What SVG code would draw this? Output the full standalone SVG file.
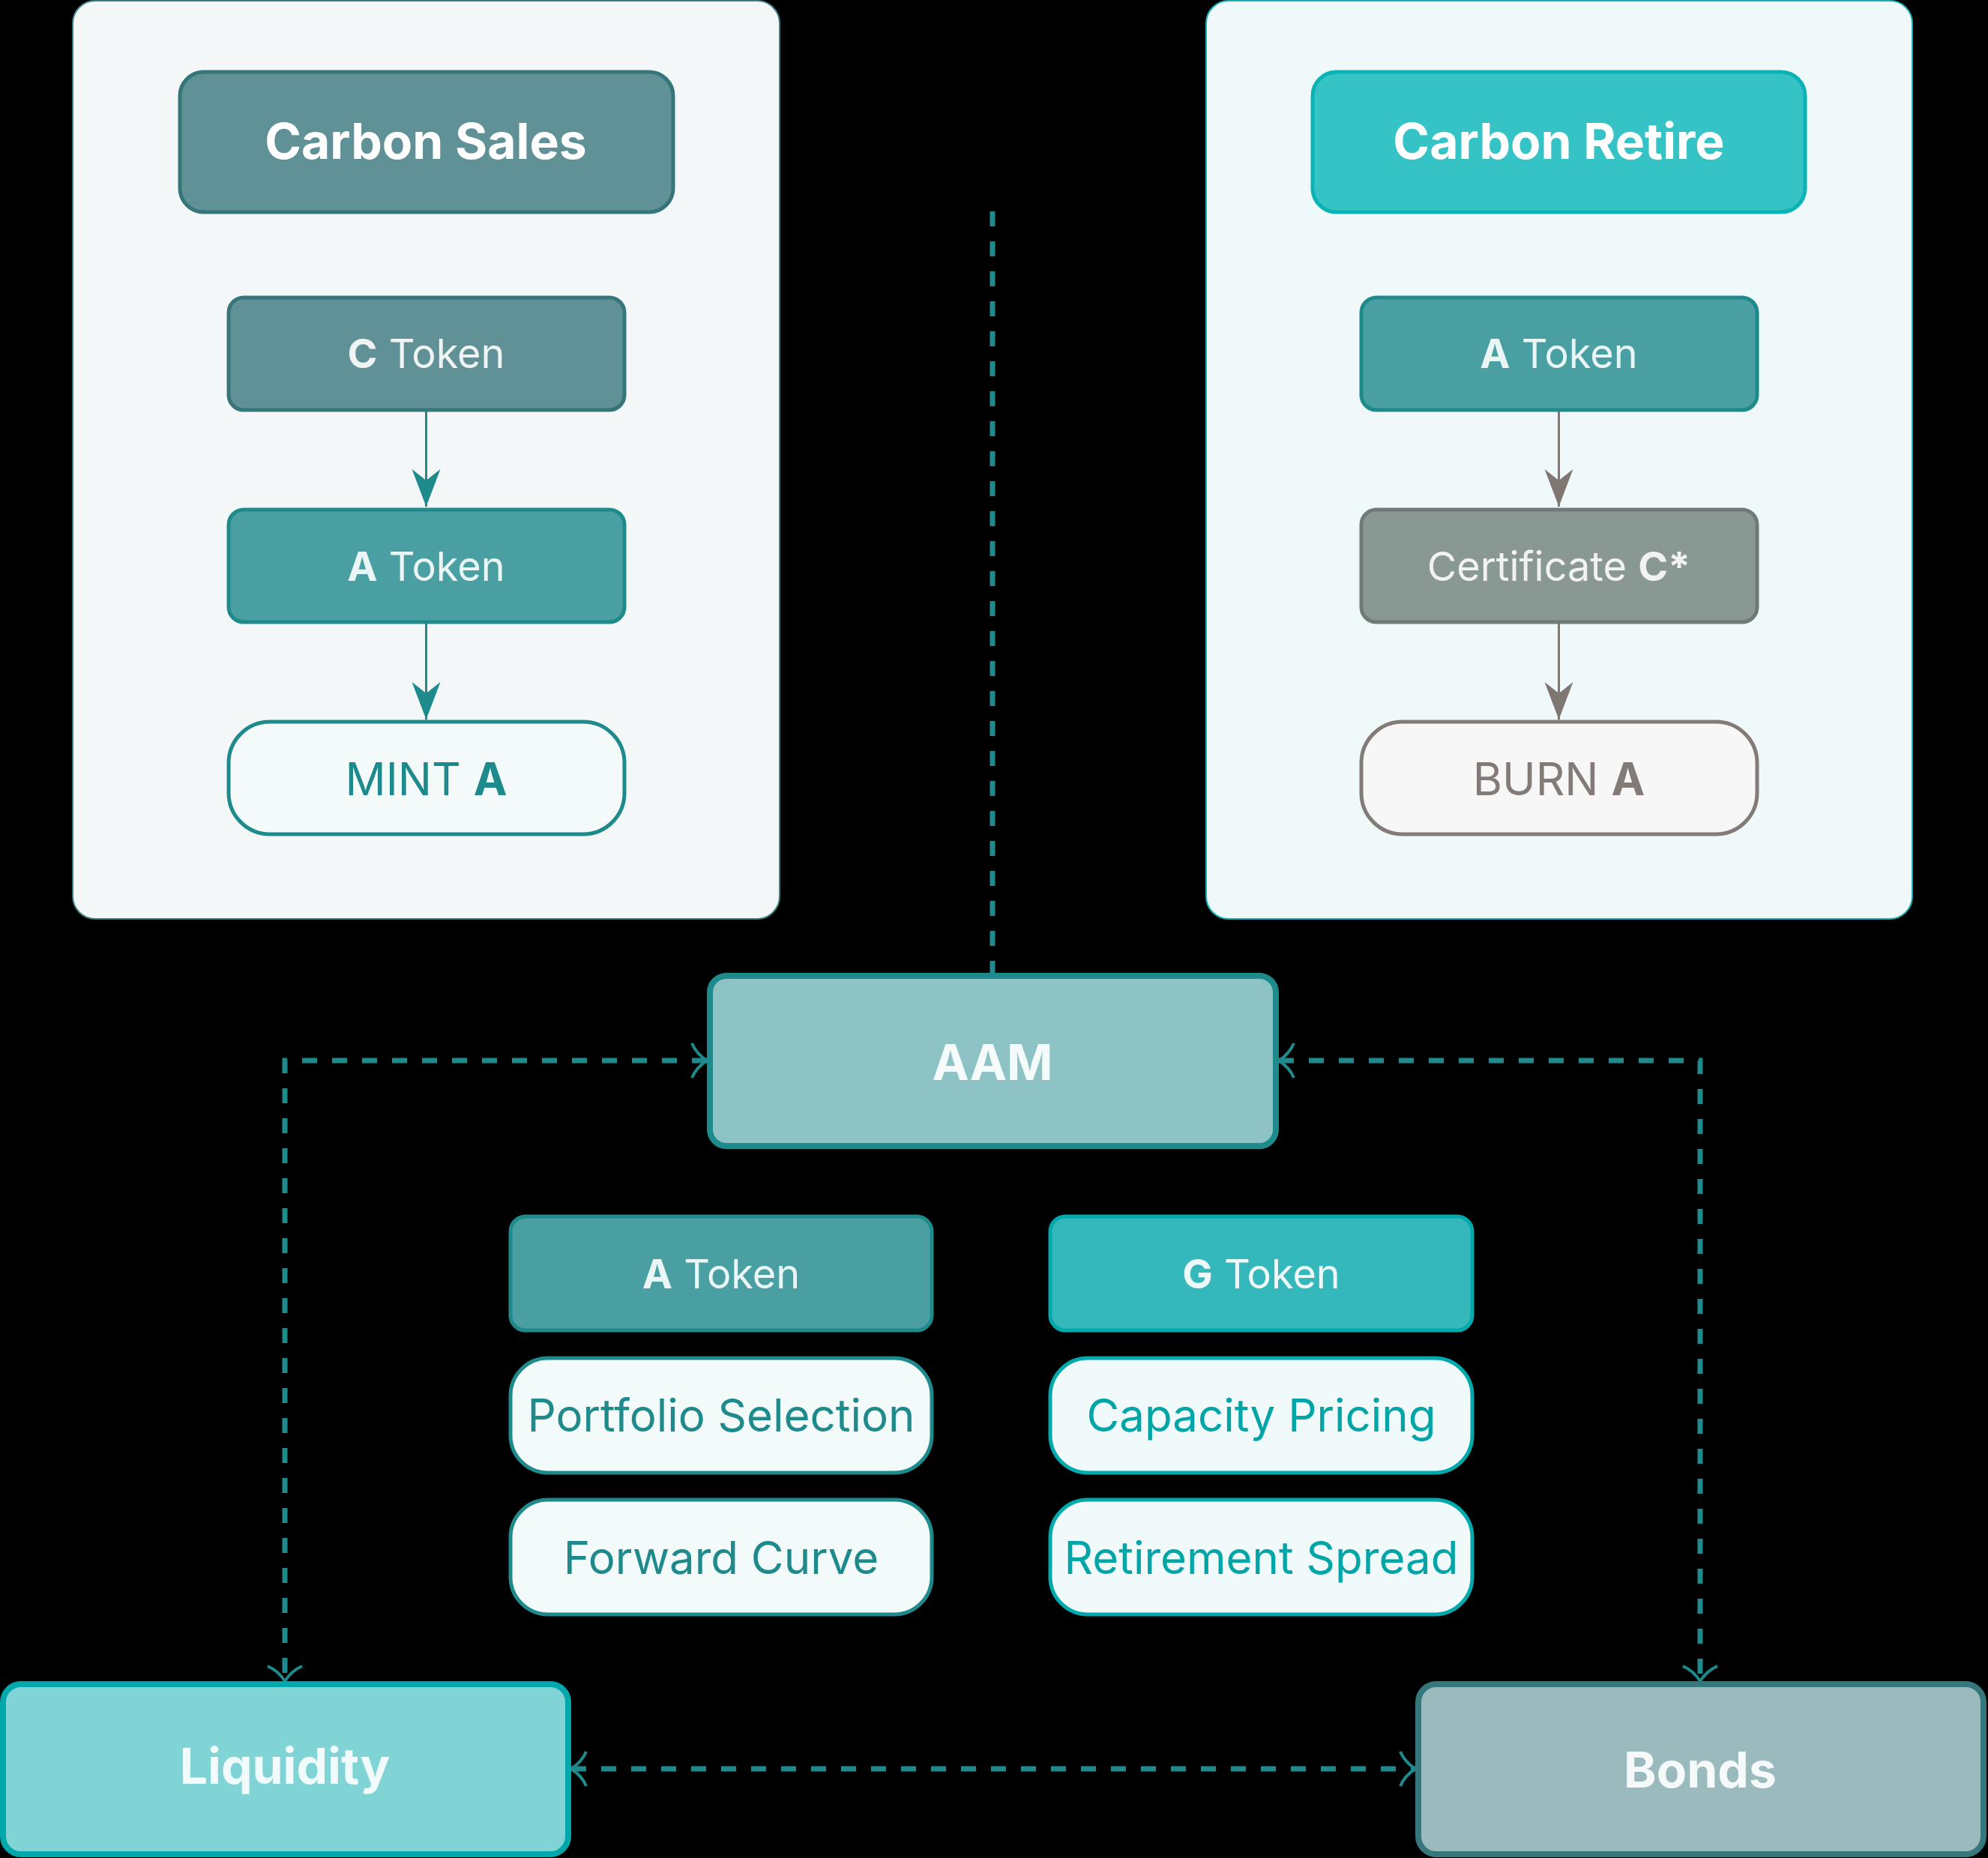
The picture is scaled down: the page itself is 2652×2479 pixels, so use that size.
<svg xmlns="http://www.w3.org/2000/svg" width="2652" height="2479" viewBox="0 0 2652 2479">
<style>
text{font-family:Inter,"Noto Sans","Liberation Sans",sans-serif;text-anchor:middle}
.b{font-weight:700}
.title{font-size:66px;font-weight:700}
.tok{font-size:54px}
.pill{font-size:60px}
.feat{font-size:60px}
.dash{fill:none;stroke:#1e8a8c;stroke-width:7;stroke-dasharray:20 20}
.solidT{fill:none;stroke:#1e8a8c;stroke-width:3}
.solidG{fill:none;stroke:#7f7773;stroke-width:3}
</style>
<defs>
<marker id="headT" viewBox="-50 -20 50 40" markerUnits="userSpaceOnUse" markerWidth="50" markerHeight="40" refX="0" refY="0" orient="auto">
<path d="M0,0 L-50,-19 L-35,0 L-50,19 Z" fill="#1e8a8c"/>
</marker>
<marker id="headG" viewBox="-50 -20 50 40" markerUnits="userSpaceOnUse" markerWidth="50" markerHeight="40" refX="0" refY="0" orient="auto">
<path d="M0,0 L-50,-19 L-35,0 L-50,19 Z" fill="#7f7773"/>
</marker>
<marker id="open" viewBox="-24 -27 28 54" markerUnits="userSpaceOnUse" markerWidth="28" markerHeight="54" refX="0" refY="0" orient="auto-start-reverse">
<path d="M-20,-23 Q-14,-9 0,0 Q-14,9 -20,23" fill="none" stroke="#1e8a8c" stroke-width="4"/>
</marker>
</defs>
<rect x="0" y="0" width="2652" height="2479" fill="#000"/>

<g id="panel-sales">
<rect x="97" y="1" width="943" height="1225" rx="30" fill="#f3f7f8" stroke="#3e7e82" stroke-width="2"/>
</g>
<g id="panel-retire">
<rect x="1609" y="1" width="942" height="1225" rx="30" fill="#f0f9fa" stroke="#16b1b3" stroke-width="2"/>
</g>

<g id="connectors">
<path class="solidT" d="M568.5,549 V676" marker-end="url(#headT)"/>
<path class="solidT" d="M568.5,832 V960" marker-end="url(#headT)"/>
<path class="solidG" d="M2079.5,549 V676" marker-end="url(#headG)"/>
<path class="solidG" d="M2079.5,832 V960" marker-end="url(#headG)"/>
<path class="dash" d="M1324,282 V1298"/>
<path class="dash" d="M943,1415 H380 V2243" marker-start="url(#open)" marker-end="url(#open)"/>
<path class="dash" d="M1706,1415 H2268 V2243" marker-start="url(#open)" marker-end="url(#open)"/>
<path class="dash" d="M762,2360 H1888" marker-start="url(#open)" marker-end="url(#open)"/>
</g>

<g id="carbon-sales">
<rect x="240" y="96" width="658" height="187" rx="32" fill="#5f9196" stroke="#36767a" stroke-width="5"/>
<text class="title" x="568" y="212" fill="#ffffff">Carbon Sales</text>
</g>
<g id="c-token">
<rect x="305" y="397" width="528" height="150" rx="20" fill="#5f9196" stroke="#36767a" stroke-width="5"/>
<text class="tok" x="568.5" y="491" fill="#eef3f3"><tspan class="b">C</tspan> Token</text>
</g>
<g id="a-token-sales">
<rect x="305" y="680" width="528" height="150" rx="20" fill="#4a9fa2" stroke="#1e8a8c" stroke-width="5"/>
<text class="tok" x="568.5" y="775" fill="#eaf5f5"><tspan class="b">A</tspan> Token</text>
</g>
<g id="mint-a">
<rect x="305" y="963" width="528" height="150" rx="55" fill="#f4f9f9" stroke="#1e8a8c" stroke-width="5"/>
<text class="pill" x="568.5" y="1061" fill="#1e8a8c">MINT <tspan class="b">A</tspan></text>
</g>

<g id="carbon-retire">
<rect x="1751" y="96" width="657" height="187" rx="32" fill="#35c3c6" stroke="#0ab3b6" stroke-width="5"/>
<text class="title" x="2079.5" y="212" fill="#ffffff">Carbon Retire</text>
</g>
<g id="a-token-retire">
<rect x="1816" y="397" width="528" height="150" rx="20" fill="#4a9fa2" stroke="#1e8a8c" stroke-width="5"/>
<text class="tok" x="2079.5" y="491" fill="#eaf5f5"><tspan class="b">A</tspan> Token</text>
</g>
<g id="certificate">
<rect x="1816" y="680" width="528" height="150" rx="20" fill="#8a9893" stroke="#6f7b77" stroke-width="5"/>
<text class="tok" x="2079.5" y="775" fill="#f2f2f2">Certificate <tspan class="b">C*</tspan></text>
</g>
<g id="burn-a">
<rect x="1816" y="963" width="528" height="150" rx="55" fill="#f7f7f7" stroke="#827b77" stroke-width="5"/>
<text class="pill" x="2079.5" y="1061" fill="#827b77">BURN <tspan class="b">A</tspan></text>
</g>

<g id="aam">
<rect x="947" y="1302" width="755" height="227" rx="22" fill="#8ec3c5" stroke="#1e8a8c" stroke-width="8"/>
<text class="title" x="1324" y="1441" fill="#f5fbfb">AAM</text>
</g>

<g id="a-token-aam">
<rect x="681" y="1623" width="562" height="152" rx="20" fill="#4a9fa2" stroke="#1e8a8c" stroke-width="5"/>
<text class="tok" x="962" y="1719" fill="#eaf5f5"><tspan class="b">A</tspan> Token</text>
</g>
<g id="g-token">
<rect x="1401" y="1623" width="563" height="152" rx="20" fill="#35b8bb" stroke="#00a9ac" stroke-width="5"/>
<text class="tok" x="1682.5" y="1719" fill="#eef8f8"><tspan class="b">G</tspan> Token</text>
</g>
<g id="portfolio-selection">
<rect x="681" y="1812" width="562" height="153" rx="50" fill="#f3fafa" stroke="#1e8a8c" stroke-width="5"/>
<text class="feat" x="962" y="1910" fill="#1e8a8c">Portfolio Selection</text>
</g>
<g id="forward-curve">
<rect x="681" y="2001" width="562" height="153" rx="50" fill="#f3fafa" stroke="#1e8a8c" stroke-width="5"/>
<text class="feat" x="962" y="2100" fill="#1e8a8c">Forward Curve</text>
</g>
<g id="capacity-pricing">
<rect x="1401" y="1812" width="563" height="153" rx="50" fill="#f1fafa" stroke="#00a9ac" stroke-width="5"/>
<text class="feat" x="1682.5" y="1910" fill="#00a5a8">Capacity Pricing</text>
</g>
<g id="retirement-spread">
<rect x="1401" y="2001" width="563" height="153" rx="50" fill="#f1fafa" stroke="#00a9ac" stroke-width="5"/>
<text class="feat" x="1682.5" y="2100" fill="#00a5a8">Retirement Spread</text>
</g>

<g id="liquidity">
<rect x="4" y="2247" width="754" height="227" rx="24" fill="#80d4d5" stroke="#00a8ab" stroke-width="8"/>
<text class="title" x="380" y="2380" fill="#f2fbfb">Liquidity</text>
</g>
<g id="bonds">
<rect x="1892" y="2247" width="754" height="227" rx="24" fill="#9bbabd" stroke="#36777b" stroke-width="8"/>
<text class="title" x="2268" y="2385" fill="#f5f9f9">Bonds</text>
</g>
</svg>
